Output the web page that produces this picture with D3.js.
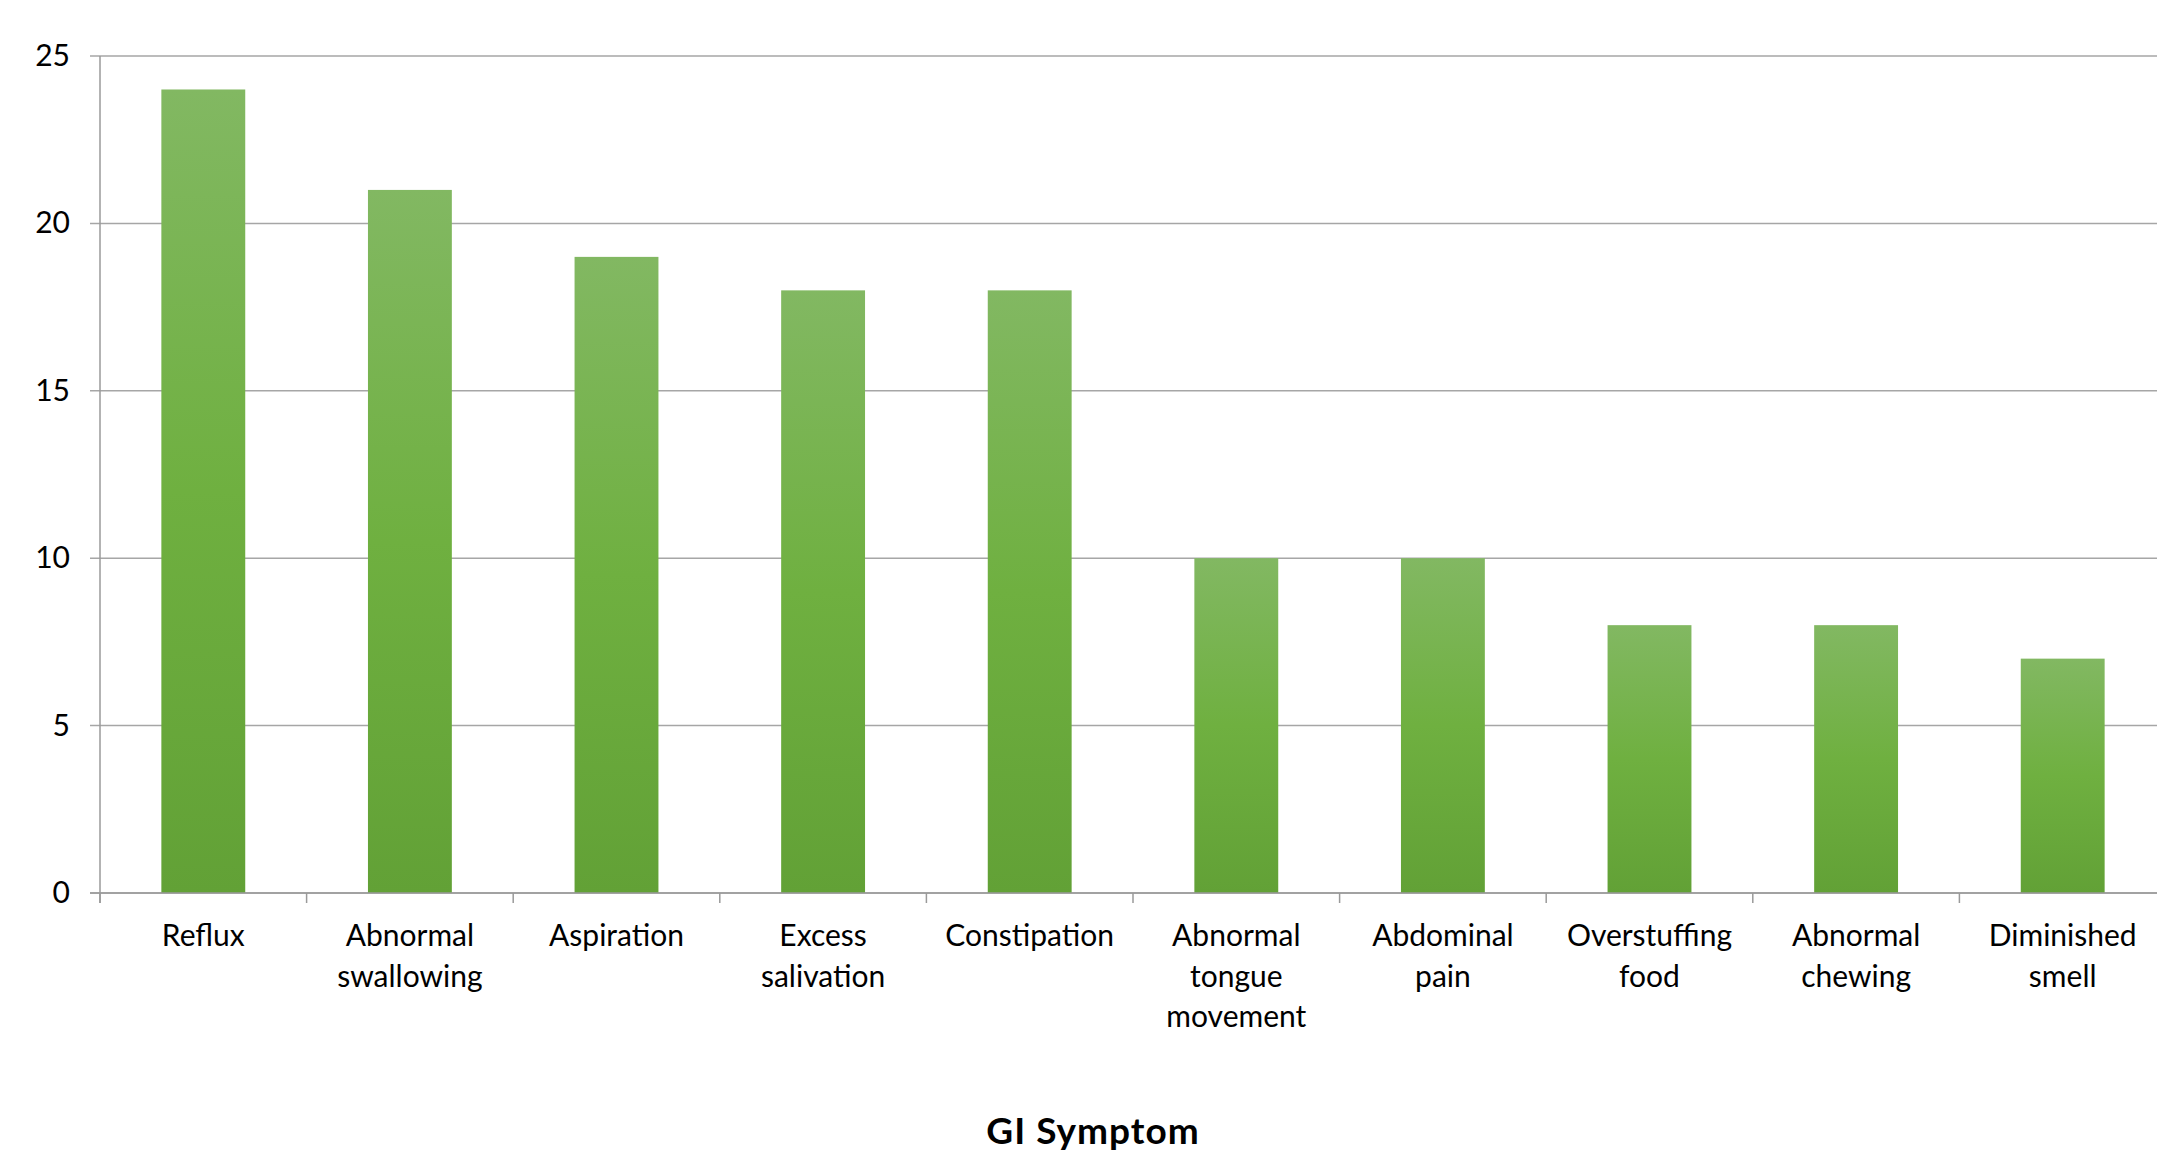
<!DOCTYPE html>
<html>
<head>
<meta charset="utf-8">
<script src="https://cdn.jsdelivr.net/npm/d3@7"></script>
<style>
  html, body { margin: 0; padding: 0; background: #fff; overflow: hidden; }
  text { font-family: Lato, "Open Sans", sans-serif; fill: #000; }
</style>
</head>
<body>
<div id="chart"></div>
<script>
// symptom names, each split into the lines shown under the axis
var symptoms = [
  ["Reflux"],
  ["Abnormal", "swallowing"],
  ["Aspiration"],
  ["Excess", "salivation"],
  ["Constipation"],
  ["Abnormal", "tongue", "movement"],
  ["Abdominal", "pain"],
  ["Overstuffing", "food"],
  ["Abnormal", "chewing"],
  ["Diminished", "smell"]
];
var counts = [24, 21, 19, 18, 18, 10, 10, 8, 8, 7];
var yTicks = [0, 5, 10, 15, 20, 25];
var axisTitle = "GI Symptom";

var W = 2157, H = 1151;
var margin = {top: 56, left: 100, bottom: 258};

var svg = d3.select("#chart").append("svg")
  .attr("width", W)
  .attr("height", H);

// gradient like the excel fill, light on top going darker
var defs = svg.append("defs");
var grad = defs.append("linearGradient")
  .attr("id", "barFill")
  .attr("x1", 0).attr("y1", 0).attr("x2", 0).attr("y2", 1);
grad.append("stop").attr("offset", "0%").attr("stop-color", "#82b862");
grad.append("stop").attr("offset", "50%").attr("stop-color", "#6fb040");
grad.append("stop").attr("offset", "100%").attr("stop-color", "#62a136");

var keys = symptoms.map(function(d){ return d.join(" "); });

var x = d3.scaleBand()
  .domain(keys)
  .range([margin.left, margin.left + 10 * 206.6])
  .paddingInner(0.594)
  .paddingOuter(0.297);

var y = d3.scaleLinear()
  .domain([0, 25])
  .range([H - margin.bottom, margin.top]);

// horizontal gridlines
svg.append("g")
  .selectAll("line")
  .data(yTicks)
  .join("line")
    .attr("x1", margin.left - 10)
    .attr("x2", W)
    .attr("y1", function(d){ return y(d); })
    .attr("y2", function(d){ return y(d); })
    .attr("stroke", "#a6a6a6")
    .attr("stroke-width", 1.5);

// y tick labels
svg.append("g")
  .selectAll("text")
  .data(yTicks)
  .join("text")
    .attr("x", 70)
    .attr("y", function(d){ return y(d); })
    .attr("dy", "0.33em")
    .attr("text-anchor", "end")
    .style("font-size", "30px")
    .text(function(d){ return d; });

// bars
svg.append("g")
  .selectAll("rect")
  .data(counts)
  .join("rect")
    .attr("x", function(d, i){ return x(keys[i]); })
    .attr("y", function(d){ return y(d); })
    .attr("width", x.bandwidth())
    .attr("height", function(d){ return y(0) - y(d); })
    .attr("fill", "url(#barFill)");

// y axis line
svg.append("line")
  .attr("x1", margin.left).attr("x2", margin.left)
  .attr("y1", y(25)).attr("y2", y(0) + 10)
  .attr("stroke", "#9a9a9a")
  .attr("stroke-width", 1.5);

// x axis line + category ticks
var step = x.step();
svg.append("line")
  .attr("x1", margin.left - 10).attr("x2", W)
  .attr("y1", y(0)).attr("y2", y(0))
  .attr("stroke", "#9a9a9a")
  .attr("stroke-width", 1.5);
svg.append("g")
  .selectAll("line")
  .data(d3.range(11))
  .join("line")
    .attr("x1", function(i){ return margin.left + i * step; })
    .attr("x2", function(i){ return margin.left + i * step; })
    .attr("y1", y(0))
    .attr("y2", y(0) + 10)
    .attr("stroke", "#9a9a9a")
    .attr("stroke-width", 1.5);

// category labels, multi line
var lab = svg.append("g")
  .selectAll("text")
  .data(symptoms)
  .join("text")
    .attr("text-anchor", "middle")
    .style("font-size", "30px")
    .attr("transform", function(d, i){
      return "translate(" + (x(keys[i]) + x.bandwidth() / 2) + "," + (y(0) + 53) + ")";
    });
lab.selectAll("tspan")
  .data(function(d){ return d; })
  .join("tspan")
    .attr("x", 0)
    .attr("y", function(d, j){ return j * 40.5; })
    .text(function(d){ return d; });

// axis title (sits at the very bottom edge, as in the original)
svg.append("text")
  .attr("x", 1093)
  .attr("y", 1144)
  .attr("text-anchor", "middle")
  .style("font-size", "37px")
  .style("letter-spacing", "1px")
  .style("font-weight", "bold")
  .text(axisTitle);
</script>
</body>
</html>
